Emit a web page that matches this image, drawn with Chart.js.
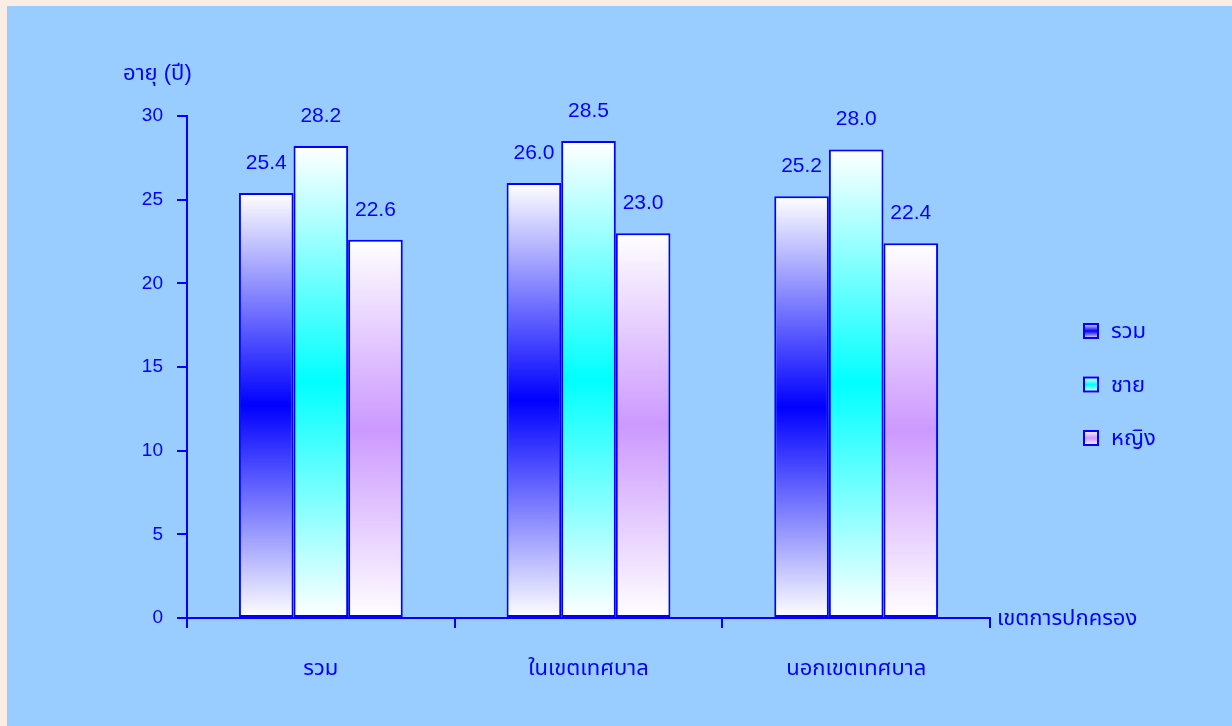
<!DOCTYPE html>
<html>
<head>
<meta charset="utf-8">
<script src="https://cdn.jsdelivr.net/npm/chart.js@4"></script>
<style>
  html, body { margin: 0; padding: 0; background: #FAEEE4; width: 1232px; height: 726px; overflow: hidden; }
  #wrap { position: absolute; left: 7px; top: 6px; width: 1225px; height: 720px; background: #99CCFF; }
</style>
</head>
<body>
<div id="wrap"><canvas id="c" width="1225" height="720"></canvas></div>
<script>
const categories = ['รวม', 'ในเขตเทศบาล', 'นอกเขตเทศบาล'];
const seriesNames = ['รวม', 'ชาย', 'หญิง'];
const totalValues = [25.4, 26.0, 25.2];
const maleValues = [28.2, 28.5, 28.0];
const femaleValues = [22.6, 23.0, 22.4];
const seriesColors = ['#0000FF', '#00FFFF', '#CC99FF'];
const yTicks = [0, 5, 10, 15, 20, 25, 30];
const yTitle = 'อายุ (ปี)';
const xTitle = 'เขตการปกครอง';

const FONT = "'Liberation Sans', 'Noto Sans Thai', 'Noto Sans', Arial, sans-serif";
const BLUE = '#0000FF';

function barGradient(color) {
  return function (ctx) {
    const chart = ctx.chart;
    const ys = chart.scales && chart.scales.y;
    if (!ys || ctx.raw === undefined) return color;
    const top = ys.getPixelForValue(ctx.raw);
    const base = ys.getPixelForValue(0);
    if (!isFinite(top) || !isFinite(base) || base - top < 1) return color;
    const g = chart.ctx.createLinearGradient(0, top, 0, base);
    g.addColorStop(0, '#FFFFFF');
    g.addColorStop(0.5, color);
    g.addColorStop(1, '#FFFFFF');
    return g;
  };
}

const extras = {
  id: 'extras',
  afterDatasetsDraw(chart) {
    const c = chart.ctx;
    c.save();
    c.fillStyle = BLUE;
    c.font = '21px ' + FONT;
    c.textAlign = 'center';
    c.textBaseline = 'alphabetic';
    chart.data.datasets.forEach((ds, di) => {
      const meta = chart.getDatasetMeta(di);
      meta.data.forEach((el, i) => {
        c.fillText(ds.data[i].toFixed(1), el.x, el.y - 24);
      });
    });
    // axis titles
    c.font = '22px ' + FONT;
    c.textAlign = 'left';
    c.textBaseline = 'middle';
    c.fillText(yTitle, 116, 68);
    c.fillText(xTitle, 990, 613);
    // legend
    const lx = 1076, ly0 = 325, step = 53.5, bs = 16;
    chart.data.datasets.forEach((ds, di) => {
      const y = ly0 + di * step;
      const g = c.createLinearGradient(0, y - bs / 2, 0, y + bs / 2);
      g.addColorStop(0, '#FFFFFF');
      g.addColorStop(0.5, seriesColors[di]);
      g.addColorStop(1, '#FFFFFF');
      c.fillStyle = g;
      c.fillRect(lx, y - bs / 2, bs, bs);
      c.strokeStyle = BLUE;
      c.lineWidth = 2;
      c.strokeRect(lx + 1, y - bs / 2 + 1, bs - 2, bs - 2);
      c.fillStyle = BLUE;
      c.fillText(ds.label, lx + 28, y + 1);
    });
    c.restore();
  }
};

const values = [totalValues, maleValues, femaleValues];

new Chart(document.getElementById('c'), {
  type: 'bar',
  data: {
    labels: categories,
    datasets: seriesNames.map((name, i) => ({
      label: name,
      data: values[i],
      backgroundColor: barGradient(seriesColors[i]),
      borderColor: BLUE,
      borderWidth: 2,
      borderSkipped: false,
      barPercentage: 1.0,
      categoryPercentage: 0.612
    }))
  },
  options: {
    responsive: false,
    animation: false,
    devicePixelRatio: 1,
    layout: { padding: { top: 110, right: 242, bottom: 0, left: 0 } },
    plugins: { legend: { display: false }, tooltip: { enabled: false } },
    scales: {
      x: {
        offset: true,
        grid: { display: true, offset: true, drawOnChartArea: false, drawTicks: true, tickLength: 10, color: BLUE, lineWidth: 2 },
        border: { display: true, color: BLUE, width: 2 },
        ticks: { color: BLUE, font: { family: FONT, size: 22 }, padding: 28 },
        afterFit(s) { s.height = 108; }
      },
      y: {
        min: 0, max: 30,
        afterBuildTicks(s) { s.ticks = yTicks.map(v => ({ value: v })); },
        grid: { display: true, drawOnChartArea: false, drawTicks: true, tickLength: 10, color: BLUE, lineWidth: 2 },
        border: { display: true, color: BLUE, width: 2 },
        ticks: { color: BLUE, font: { family: FONT, size: 19 }, padding: 14 },
        afterFit(s) { s.width = 180; }
      }
    }
  },
  plugins: [extras]
});
</script>
</body>
</html>
